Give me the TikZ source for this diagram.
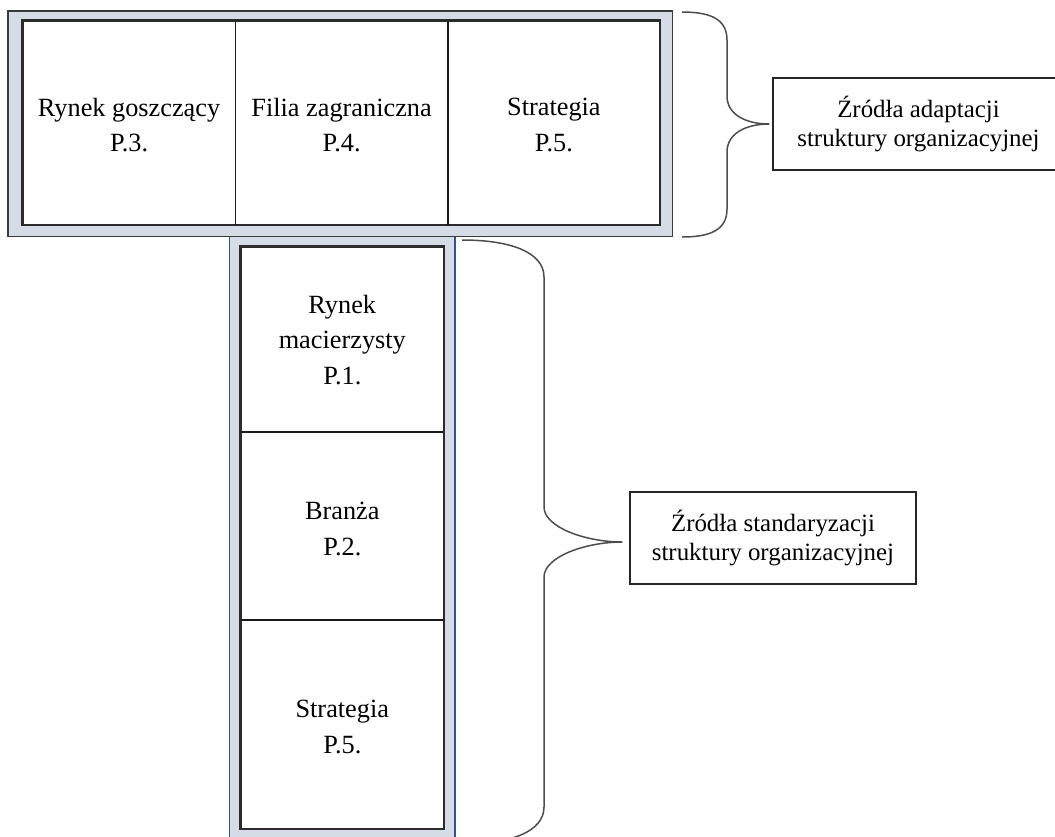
\documentclass[tikz,border=0pt]{standalone}
\usepackage{fontspec}
\setmainfont{Liberation Serif}
\usetikzlibrary{calc}
\definecolor{framefill}{HTML}{D6DCE5}
\definecolor{frameblue}{HTML}{2F5597}
\definecolor{framegray}{HTML}{3A3A3A}
\definecolor{innerline}{HTML}{2B2B2B}
\definecolor{bracecol}{HTML}{4D4D4D}
\tikzset{
  celltext/.style={align=center, inner sep=0pt, font=\fontsize{26.3}{35.7}\selectfont},
  labelbox/.style={draw=black!85, line width=1.3pt, fill=white, align=center, inner sep=0pt,
                   font=\fontsize{24.9}{29}\selectfont},
  innerrect/.style={draw=innerline, line width=2.6pt, fill=white},
  divider/.style={draw=black!90, line width=1.6pt},
  bracestyle/.style={draw=bracecol, line width=1.5pt},
}
\begin{document}
\begin{tikzpicture}[x=1pt,y=-1pt]
\clip (0,0) rectangle (1055,836);
\fill[white] (0,0) rectangle (1055,836);

% lower vertical frame
\fill[framefill] (229.3,236) rectangle (455,848);
\draw[frameblue, line width=1.2pt] (229.3,236) -- (229.3,848);
\draw[frameblue, line width=1.2pt] (455,236) -- (455,848);
\draw[innerrect] (240.7,246.7) rectangle (444,829);
\draw[divider] (240.7,432) -- (444,432);
\draw[divider] (240.7,620) -- (444,620);

% upper horizontal frame
\draw[framegray, line width=1.1pt, fill=framefill] (8,11) rectangle (672.7,236.7);
\draw[innerrect] (22.7,20.7) rectangle (660,225);
\draw[divider] (235.5,20.7) -- (235.5,225);
\draw[divider] (447.7,20.7) -- (447.7,225);

% cell texts
\node[celltext] (t1) at (129.1,125) {Rynek goszczący\\P.3.};
\node[celltext] (t2) at (341.6,125) {Filia zagraniczna\\P.4.};
\node[celltext] (t3) at (553.9,125) {Strategia\\P.5.};
\node[celltext] (b1) at (342.3,340) {Rynek\\macierzysty\\P.1.};
\node[celltext] (b2) at (342.3,529) {Branża\\P.2.};
\node[celltext] (b3) at (342.3,727) {Strategia\\P.5.};

% label boxes
\node[labelbox, minimum width=291, minimum height=92] (adapt) at (918.5,124) {Źródła adaptacji\\struktury organizacyjnej};
\node[labelbox, minimum width=286, minimum height=92] (stand) at (773,538) {Źródła standaryzacji\\struktury organizacyjnej};

% braces
\coordinate (tipA) at ($(adapt.west)+(-3,0)$);
\coordinate (tipS) at ($(stand.west)+(-7,4)$);
\draw[bracestyle] (682,12) .. controls (712,12) and (727,20) .. (727,40)
  -- (727,96) .. controls (727,114) and (745,124) .. (tipA)
  .. controls (745,124) and (727,134) .. (727,152)
  -- (727,209) .. controls (727,229) and (712,237) .. (682,237);
\draw[bracestyle] (462,240) .. controls (510,240) and (544,252) .. (544,277)
  -- (544,507) .. controls (544,527) and (585,542) .. (tipS)
  .. controls (585,542) and (544,557) .. (544,577)
  -- (544,807) .. controls (544,832) and (510,844) .. (462,844);
\end{tikzpicture}
\end{document}
